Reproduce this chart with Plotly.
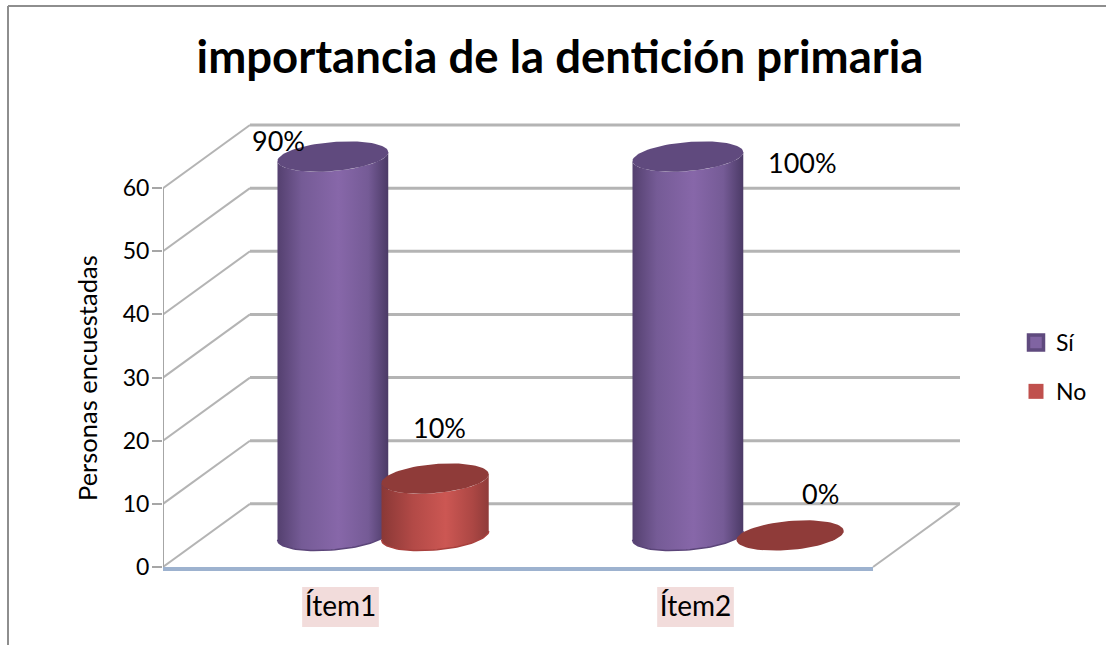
"""
Importancia de la dentición primaria: cilindros 3D de Excel, con proyección oblicua sobre ejes 2D.
"""

import numpy as np
import plotly.graph_objects as go

W, H = 1106, 645

TITLE = "importancia de la dentición primaria"
ITEMS = ["Ítem1", "Ítem2"]
SI_VALUES = [60, 60]
NO_VALUES = [9, 0]
SI_LABELS = ["90%", "100%"]
NO_LABELS = ["10%", "0%"]
Y_TICKS = [0, 10, 20, 30, 40, 50, 60]

# Geometrie der Projektion (Achseneinheiten)
DEPTH_X = 0.245
DEPTH_Y = 10
BAR_OFFSET = 0.144
SI_RADIUS = 0.156
NO_RADIUS = 0.151
TILT_Y = 0.7
RADIUS_Y = 2.3
Y_MIN = -1  # etwas Platz unter 0 und über 70, sonst werden die Randlinien abgeschnitten
Y_MAX = 71
PX_PER_UNIT = 442 / 70

FONT = "Lato"
GRID = "#b4b4b4"
SI_TOP = "#604a7e"
NO_TOP = "#8f3b39"
SI_RIM = "#5b4579"
NO_RIM = "#a8403d"
SI_BODY = [[0, "#54406f"], [0.22, "#755b96"], [0.55, "#8767a9"], [0.82, "#755b96"], [1, "#4b3a66"]]
NO_BODY = [[0, "#8a3836"], [0.3, "#b34a47"], [0.6, "#cc5753"], [0.85, "#ac4744"], [1, "#8f3b39"]]

# Beschriftungen sind im Original von Hand verschoben (px relativ zur Deckfläche)
SI_SHIFTS = [(-54, 16), (115, -6)]
NO_SHIFTS = [(4, 51), (30, 42)]


def ellipse(cx, cy, radius, t):
    return cx + radius * np.cos(t), cy + TILT_Y * np.cos(t) + RADIUS_Y * np.sin(t)


def cylinder(fig, cx, value, radius, top_color, rim_color, body_scale):
    base = DEPTH_Y / 2
    top = base + value
    # Mantel: unterer Rand der Grundfläche, dann zurück über die Deckfläche
    low_x, low_y = ellipse(cx, base, radius, np.linspace(np.pi, 2 * np.pi, 50))
    up_x, up_y = ellipse(cx, top, radius, np.linspace(2 * np.pi, np.pi, 50))
    if value > 0:
        fig.add_trace(go.Scatter(
            x=np.r_[low_x, up_x], y=np.r_[low_y, up_y], mode="lines", fill="toself",
            line=dict(width=0), fillgradient=dict(type="horizontal", colorscale=body_scale),
            showlegend=False, hoverinfo="skip", cliponaxis=False,
        ))
        line(fig, low_x, low_y, rim_color, 1.5)
    top_x, top_y = ellipse(cx, top, radius, np.linspace(0, 2 * np.pi, 80))
    fig.add_trace(go.Scatter(
        x=top_x, y=top_y, mode="lines", fill="toself", fillcolor=top_color,
        line=dict(width=0), showlegend=False, hoverinfo="skip", cliponaxis=False,
    ))


def line(fig, x, y, color, width):
    fig.add_trace(go.Scatter(
        x=x, y=y, mode="lines", line=dict(color=color, width=width),
        showlegend=False, hoverinfo="skip", cliponaxis=False,
    ))


fig = go.Figure()

# Rückwand und Seitenwand
for v in Y_TICKS:
    line(fig, [DEPTH_X, 2 + DEPTH_X], [v + DEPTH_Y, v + DEPTH_Y], GRID, 3)
    line(fig, [0, DEPTH_X], [v, v + DEPTH_Y], GRID, 2)
line(fig, [0, 0], [Y_TICKS[0], Y_TICKS[-1]], "#a6a6a6", 2)
line(fig, [2, 2 + DEPTH_X], [0, DEPTH_Y], GRID, 2)
line(fig, [0, 2], [-0.3, -0.3], "#9db2cf", 4)

annotations = []
for i, item in enumerate(ITEMS):
    center = i + 0.5 + DEPTH_X / 2
    cylinder(fig, center - BAR_OFFSET, SI_VALUES[i], SI_RADIUS, SI_TOP, SI_RIM, SI_BODY)
    cylinder(fig, center + BAR_OFFSET, NO_VALUES[i], NO_RADIUS, NO_TOP, NO_RIM, NO_BODY)
    for off, val, lab, shift in ((-BAR_OFFSET, SI_VALUES[i], SI_LABELS[i], SI_SHIFTS[i]),
                                 (BAR_OFFSET, NO_VALUES[i], NO_LABELS[i], NO_SHIFTS[i])):
        annotations.append(dict(
            x=center + off, y=val + DEPTH_Y / 2, xref="x", yref="y", text=lab, showarrow=False,
            xshift=shift[0], yshift=shift[1], font=dict(family=FONT, size=27, color="black"),
        ))

# Legende
fig.add_trace(go.Scatter(
    x=[None], y=[None], mode="markers", name="Sí", legendgroup="si",
    marker=dict(symbol="square", size=15, color="#8064a2", line=dict(color="#5f4a7e", width=3.5)),
))
fig.add_trace(go.Scatter(
    x=[None], y=[None], mode="markers", name="No", legendgroup="no",
    marker=dict(symbol="square", size=15, color="#c0504d"),
))

annotations.append(dict(
    x=87 / W, y=1 - 378 / H, xref="paper", yref="paper", xanchor="center", yanchor="middle",
    text="Personas encuestadas", textangle=-90, showarrow=False,
    font=dict(family=FONT, size=25.5, color="black"),
))

shapes = [
    dict(type="line", xref="paper", yref="paper", x0=8 / W, x1=8 / W, y0=0, y1=1 - 6 / H,
         line=dict(color="#8e8e8e", width=2)),
    dict(type="line", xref="paper", yref="paper", x0=8 / W, x1=1, y0=1 - 6 / H, y1=1 - 6 / H,
         line=dict(color="#8e8e8e", width=2)),
]
for i in range(len(ITEMS)):
    shapes.append(dict(type="rect", xref="x", yref="paper", x0=i + 0.5 - 0.108, x1=i + 0.5 + 0.108,
                       y0=1 - 627 / H, y1=1 - 587 / H, fillcolor="#f2dcdb", line=dict(width=0), layer="below"))

fig.update_layout(
    width=W, height=H, margin=dict(l=0, r=0, t=0, b=0),
    paper_bgcolor="white", plot_bgcolor="rgba(0,0,0,0)",
    title=dict(text=TITLE, x=560 / W, xanchor="center", y=1 - 57 / H, yanchor="middle",
               font=dict(family=FONT, size=45.5, color="black", weight="bold")),
    xaxis=dict(domain=[163 / W, 960 / W], range=[0, 2 + DEPTH_X], showgrid=False, zeroline=False,
               automargin=False, tickvals=[0.5, 1.5], ticktext=ITEMS, ticks="", ticklabelstandoff=14,
               tickfont=dict(family=FONT, size=28, color="black")),
    yaxis=dict(domain=[1 - (567 - Y_MIN * PX_PER_UNIT) / H, 1 - (125 - (Y_MAX - 70) * PX_PER_UNIT) / H],
               range=[Y_MIN, Y_MAX],
               showgrid=False, zeroline=False, automargin=False,
               tickvals=Y_TICKS, ticks="outside", ticklen=10, tickcolor="#a6a6a6", tickwidth=2,
               ticklabelstandoff=-2, tickfont=dict(family=FONT, size=23, color="black")),
    legend=dict(x=1016 / W, y=1 - 367 / H, xanchor="left", yanchor="middle", tracegroupgap=16,
                font=dict(family=FONT, size=23, color="black"), itemwidth=30),
    annotations=annotations, shapes=shapes,
)

fig.write_html("out.html", config=dict(displayModeBar=False),
               post_script="document.body.style.margin='0';document.body.style.overflow='hidden';")
